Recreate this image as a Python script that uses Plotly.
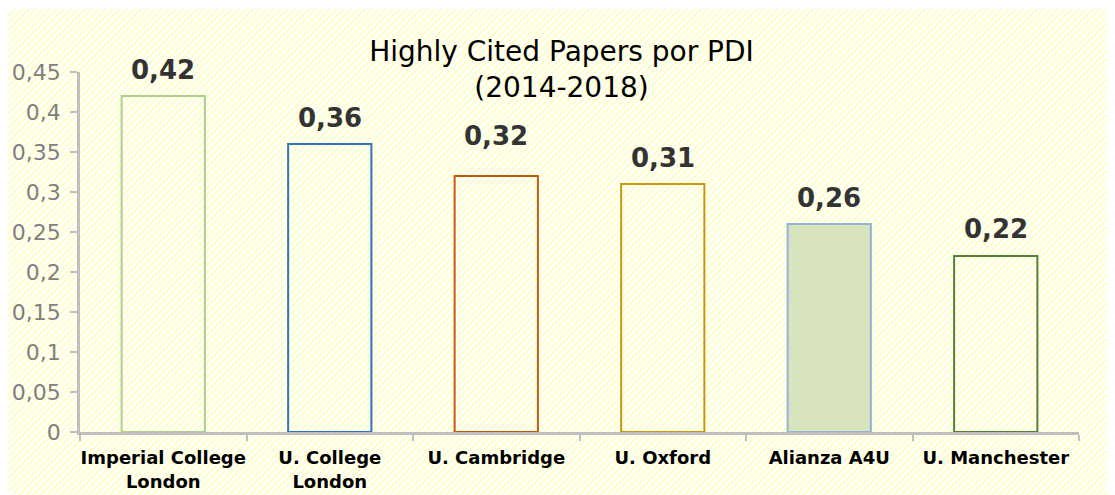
import plotly.graph_objects as go

# datos
universidades = ["Imperial College<br>London", "U. College<br>London", "U. Cambridge",
                 "U. Oxford", "Alianza A4U", "U. Manchester"]
hcp_por_pdi = [0.42, 0.36, 0.32, 0.31, 0.26, 0.22]
etiquetas = ["0,42", "0,36", "0,32", "0,31", "0,26", "0,22"]

bordes = ["#A9D18E", "#2E75B6", "#C55A11", "#C99A0E", "#95B3D7", "#548235"]
rellenos = ["rgba(0,0,0,0)"] * 4 + ["#D7E4BD", "rgba(0,0,0,0)"]
subida_etiqueta = [26, 26, 40, 26, 26, 27]

# el body de la página deja 8px de margen, se descuentan aquí
W, H = 1107, 487
ML, MR, MT, MB = 72, 36, 64, 63

# fondo rayado (como el de Excel)
svg = (
    "<svg xmlns='http://www.w3.org/2000/svg' width='1107' height='486'>"
    "<defs><pattern id='p' patternUnits='userSpaceOnUse' width='7' height='7'>"
    "<path d='M-1,1 l2,-2 M0,7 l7,-7 M6,8 l2,-2' stroke='#FFFFC4' stroke-width='2'/>"
    "</pattern></defs>"
    "<rect x='0' y='0' width='1107' height='486' rx='8' fill='url(#p)'/></svg>"
)
svg_uri = "data:image/svg+xml;charset=utf-8," + svg.replace("#", "%23").replace("<", "%3C").replace(">", "%3E")

pw, ph = W - ML - MR, H - MT - MB

fig = go.Figure()
fig.add_trace(go.Bar(
    x=universidades, y=hcp_por_pdi, width=0.5,
    marker=dict(color=rellenos, line=dict(color=bordes, width=2)),
    hoverinfo="skip",
))

for u, v, t, s in zip(universidades, hcp_por_pdi, etiquetas, subida_etiqueta):
    fig.add_annotation(x=u, y=v, text="<b>" + t + "</b>", showarrow=False,
                       yanchor="middle", yshift=s,
                       font=dict(family="DejaVu Sans", size=26, color="#333333"))

fig.add_layout_image(dict(
    source=svg_uri, xref="paper", yref="paper",
    x=(0 - ML) / pw, y=(H - MB - 1) / ph, sizex=1107 / pw, sizey=486 / ph,
    xanchor="left", yanchor="top", sizing="stretch", layer="below",
))

fig.update_layout(
    width=W, height=H,
    margin=dict(l=ML, r=MR, t=MT, b=MB),
    paper_bgcolor="white", plot_bgcolor="rgba(0,0,0,0)",
    separators=",.",
    showlegend=False,
    title=dict(text="Highly Cited Papers por PDI<br>(2014-2018)", x=0.5, xanchor="center",
               xref="container", y=1 - 53 / H, yanchor="middle", yref="container",
               font=dict(family="DejaVu Sans", size=28, color="#000000")),
    xaxis=dict(showline=True, linecolor="#BFBFBF", linewidth=2.5, automargin=False,
               ticks="outside", tickson="boundaries", ticklen=6, tickcolor="#BFBFBF", tickwidth=2,
               ticklabelstandoff=8, tickangle=0,
               tickfont=dict(family="DejaVu Sans", size=18, color="#000000"),
               showgrid=False, zeroline=False),
    yaxis=dict(range=[0, 0.45], dtick=0.05, showline=True, linecolor="#BFBFBF", linewidth=2.5,
               automargin=False, ticklabelstandoff=5,
               ticks="outside", ticklen=7, tickcolor="#BFBFBF", tickwidth=2,
               tickfont=dict(family="DejaVu Sans", size=22, color="#808080"),
               showgrid=False, zeroline=False),
    font=dict(family="DejaVu Sans"),
)
fig.update_xaxes(tickprefix="<b>", ticksuffix="</b>")

fig.write_html("out.html")
